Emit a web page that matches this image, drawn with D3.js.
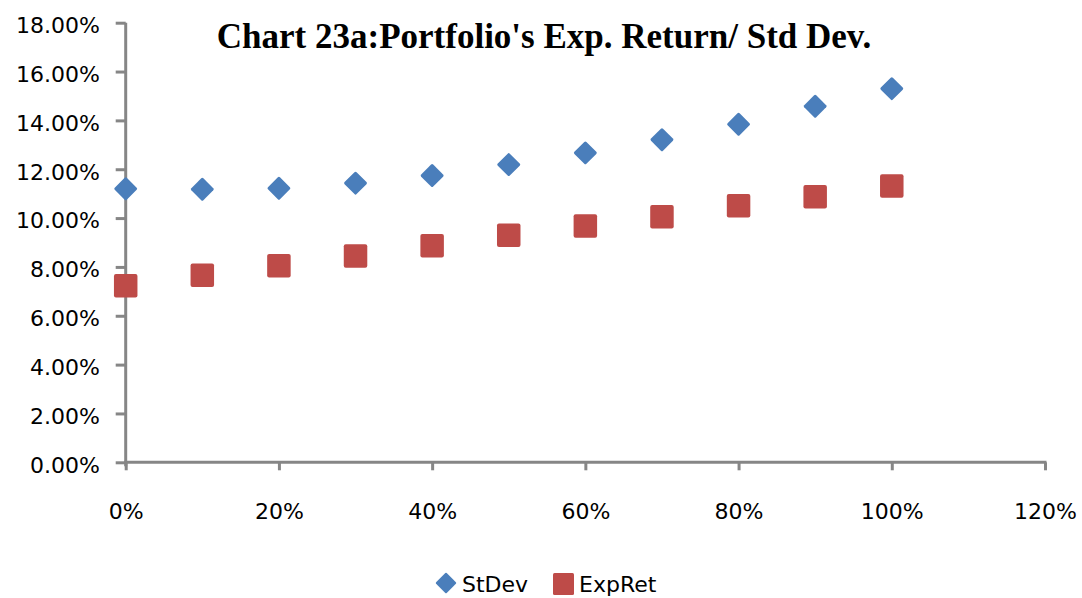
<!DOCTYPE html>
<html>
<head>
<meta charset="utf-8">
<script src="https://cdn.jsdelivr.net/npm/d3@7"></script>
<style>
html,body{margin:0;padding:0;background:#fff;}
svg{display:block;}
</style>
</head>
<body>
<svg id="chart" width="1082" height="598"></svg>
<script>
const weights = [0, 0.1, 0.2, 0.3, 0.4, 0.5, 0.6, 0.7, 0.8, 0.9, 1.0];
const stDev = [0.1120, 0.1118, 0.1122, 0.1143, 0.1174, 0.1219, 0.1267, 0.1321, 0.1384, 0.1458, 0.1530];
const expRet = [0.0723, 0.0766, 0.0805, 0.0845, 0.0887, 0.0930, 0.0968, 0.1005, 0.1050, 0.1087, 0.1131];
const xTicks = [0, 0.2, 0.4, 0.6, 0.8, 1.0, 1.2];
const yTicks = [0, 0.02, 0.04, 0.06, 0.08, 0.10, 0.12, 0.14, 0.16, 0.18];
const seriesNames = ["StDev", "ExpRet"];
const titleText = "Chart 23a:Portfolio's Exp. Return/ Std Dev.";

const svg = d3.select("#chart");
const x = d3.scaleLinear().domain([0, 1.2]).range([125.7, 1045]);
const y = d3.scaleLinear().domain([0, 0.18]).range([462.3, 22.7]);
const axisColor = "#868686";
const blue = "#4A7EBB";
const red = "#BE4B48";
const font = "DejaVu Sans, sans-serif";

// Title
svg.append("text")
  .attr("x", 544).attr("y", 48)
  .attr("text-anchor", "middle")
  .style("font-family", "Liberation Serif, Times New Roman, serif")
  .style("font-weight", "bold")
  .style("font-size", "35px")
  .attr("fill", "#000")
  .text(titleText);

// Y axis
const yAxis = svg.append("g")
  .attr("transform", `translate(${x(0)},0)`)
  .call(d3.axisLeft(y).tickValues(yTicks).tickFormat(d3.format(".2%")).tickSize(10).tickPadding(15));
yAxis.select(".domain").attr("stroke", axisColor).attr("stroke-width", 3).attr("d", `M0,${y(0)+4}V${y(0.18)}`);
yAxis.selectAll(".tick line").attr("stroke", axisColor).attr("stroke-width", 3);
yAxis.selectAll(".tick text")
  .style("font-family", font).style("font-size", "22px").attr("fill", "#000")
  .attr("dy", "0.45em").attr("x", -25.7);

// X axis
const xAxis = svg.append("g")
  .attr("transform", `translate(0,${y(0)})`)
  .call(d3.axisBottom(x).tickValues(xTicks).tickFormat(d3.format(".0%")).tickSize(8));
xAxis.select(".domain").attr("stroke", axisColor).attr("stroke-width", 3).attr("d", `M${x(0)-1.5},0H${x(1.2)+1.5}`);
xAxis.selectAll(".tick line").attr("stroke", axisColor).attr("stroke-width", 3);
xAxis.selectAll(".tick text")
  .style("font-family", font).style("font-size", "22px").attr("fill", "#000")
  .attr("y", 57).attr("dy", 0);

// Markers
const diamondSide = 17;
const sq = 23.5;
svg.append("g").selectAll("rect.sd")
  .data(weights.map((w, i) => [w, stDev[i]]))
  .join("rect")
  .attr("class", "sd")
  .attr("x", -diamondSide/2).attr("y", -diamondSide/2)
  .attr("width", diamondSide).attr("height", diamondSide)
  .attr("rx", 1.5)
  .attr("transform", d => `translate(${x(d[0])},${y(d[1])}) rotate(45)`)
  .attr("fill", blue);

svg.append("g").selectAll("rect.er")
  .data(weights.map((w, i) => [w, expRet[i]]))
  .join("rect")
  .attr("class", "er")
  .attr("x", d => x(d[0]) - sq/2).attr("y", d => y(d[1]) - sq/2)
  .attr("width", sq).attr("height", sq)
  .attr("rx", 2)
  .attr("fill", red);

// Legend
const lg = svg.append("g");
lg.append("rect")
  .attr("x", -7.5).attr("y", -7.5).attr("width", 15).attr("height", 15).attr("rx", 1)
  .attr("transform", "translate(446,583) rotate(45)")
  .attr("fill", blue);
lg.append("text").attr("x", 462).attr("y", 592)
  .style("font-family", font).style("font-size", "22px").attr("fill", "#000")
  .text(seriesNames[0]);
lg.append("rect")
  .attr("x", 553).attr("y", 573).attr("width", 21).attr("height", 22).attr("rx", 1.5)
  .attr("fill", red);
lg.append("text").attr("x", 579).attr("y", 592)
  .style("font-family", font).style("font-size", "22px").attr("fill", "#000")
  .text(seriesNames[1]);
</script>
</body>
</html>
